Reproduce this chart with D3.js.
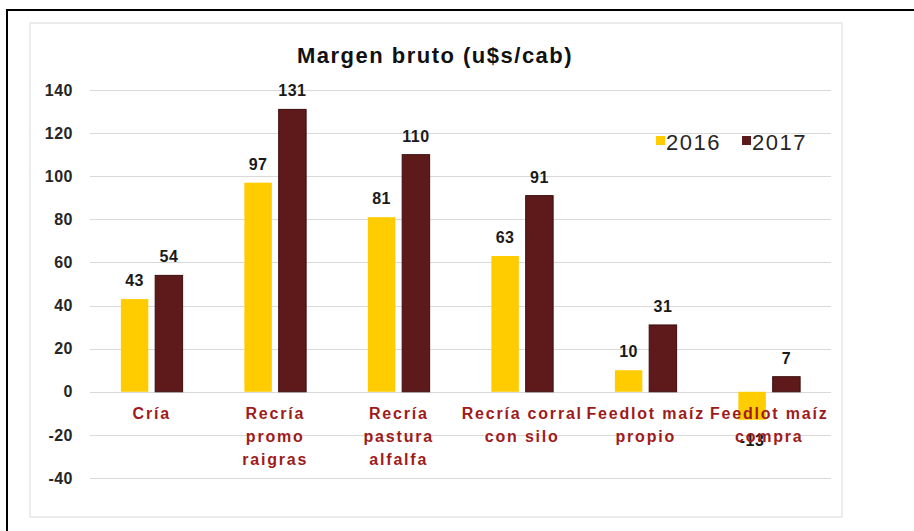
<!DOCTYPE html>
<html>
<head>
<meta charset="utf-8">
<script src="https://cdn.jsdelivr.net/npm/d3@7"></script>
<style>
  body { margin: 0; background: #fff; }
  svg text { font-family: "Liberation Sans", Arial, sans-serif; }
</style>
</head>
<body>
<script>
(function() {
    var w = 914;
    var h = 531;

    var categories = [
        ["Cría"],
        ["Recría", "promo", "raigras"],
        ["Recría", "pastura", "alfalfa"],
        ["Recría corral", "con silo"],
        ["Feedlot maíz", "propio"],
        ["Feedlot maíz", "compra"]
    ];
    var years = ["2016", "2017"];
    var values2016 = [43, 97, 81, 63, 10, -13];
    var values2017 = [54, 131, 110, 91, 31, 7];
    var yTicks = [-40, -20, 0, 20, 40, 60, 80, 100, 120, 140];

    var colors = { "2016": "#FFCC00", "2017": "#5E1A1A" };
    var strokes = { "2016": "none", "2017": "#3d0d0d" };

    var rows = categories.map(function(c, i) {
        return { key: i, label: c, vals: [
            { year: "2016", v: values2016[i] },
            { year: "2017", v: values2017[i] }
        ]};
    });

    var svg = d3.select("body").append("svg").attr("width", w).attr("height", h);

    // outer frame
    svg.append("rect").attr("x", 7).attr("y", 10).attr("width", w).attr("height", h)
        .attr("fill", "none").attr("stroke", "#000").attr("stroke-width", 2);
    // inner chart area border
    svg.append("rect").attr("x", 30).attr("y", 23).attr("width", 812).attr("height", 494)
        .attr("fill", "none").attr("stroke", "#d9d9d9").attr("stroke-width", 1);

    var x0 = d3.scaleBand().domain(rows.map(function(d) { return d.key; }))
        .range([90, 831]).paddingInner(0.5).paddingOuter(0.25);
    var x1 = d3.scaleBand().domain(years).range([0, x0.bandwidth()]).paddingInner(0.2);
    var y = d3.scaleLinear().domain([-40, 140]).range([478, 90]);

    // gridlines
    svg.append("g").selectAll("line").data(yTicks).enter().append("line")
        .attr("x1", 90).attr("x2", 831)
        .attr("y1", function(d) { return Math.round(y(d)) + 0.5; })
        .attr("y2", function(d) { return Math.round(y(d)) + 0.5; })
        .attr("stroke", "#d9d9d9").attr("stroke-width", 1);

    // y axis labels
    var yAxis = d3.axisLeft(y).tickValues(yTicks).tickSize(0).tickPadding(0);
    var gy = svg.append("g").attr("transform", "translate(73,0)").call(yAxis);
    gy.select(".domain").remove();
    gy.selectAll("text").attr("font-size", 16).attr("font-weight", "bold")
        .attr("letter-spacing", 0.5).attr("fill", "#262626").text(function(d) { return d; });

    // bars
    var groups = svg.append("g").selectAll("g").data(rows).enter().append("g")
        .attr("transform", function(d) { return "translate(" + x0(d.key) + ",0)"; });

    groups.selectAll("rect").data(function(d) { return d.vals; }).enter().append("rect")
        .attr("x", function(d) { return x1(d.year); })
        .attr("width", x1.bandwidth())
        .attr("y", function(d) { return y(Math.max(0, d.v)); })
        .attr("height", function(d) { return Math.abs(y(d.v) - y(0)); })
        .attr("fill", function(d) { return colors[d.year]; })
        .attr("stroke", function(d) { return strokes[d.year]; });

    // category labels
    var labels = svg.append("g").selectAll("text").data(rows).enter().append("text")
        .attr("x", function(d) { return x0(d.key) + x0.bandwidth() / 2; })
        .attr("y", 419)
        .attr("text-anchor", "middle")
        .attr("font-size", 16).attr("font-weight", "bold")
        .attr("letter-spacing", 1.8)
        .attr("fill", "#9E1B1B");
    labels.selectAll("tspan").data(function(d) { return d.label; }).enter().append("tspan")
        .attr("x", function() { var p = d3.select(this.parentNode).datum(); return x0(p.key) + x0.bandwidth() / 2; })
        .attr("dy", function(d, i) { return i === 0 ? 0 : 23; })
        .text(function(d) { return d; });

    // value labels
    groups.selectAll("text.val").data(function(d) { return d.vals; }).enter().append("text")
        .attr("class", "val")
        .attr("x", function(d) { return x1(d.year) + x1.bandwidth() / 2; })
        .attr("y", function(d) { return d.v >= 0 ? y(d.v) - 13 : y(d.v) + 26; })
        .attr("text-anchor", "middle")
        .attr("font-size", 16).attr("font-weight", "bold").attr("letter-spacing", 0.5)
        .attr("fill", "#1a1a1a")
        .text(function(d) { return d.v; });

    // title
    svg.append("text").attr("x", 435).attr("y", 63).attr("text-anchor", "middle")
        .attr("font-size", 22).attr("font-weight", "bold").attr("fill", "#111")
        .attr("letter-spacing", 1.5)
        .text("Margen bruto (u$s/cab)");

    // legend
    var legend = svg.append("g").selectAll("g").data(years).enter().append("g")
        .attr("transform", function(d, i) { return "translate(" + (656 + i * 86) + ",142)"; });
    legend.append("rect").attr("x", 0).attr("y", -6).attr("width", 9).attr("height", 9)
        .attr("fill", function(d) { return colors[d]; });
    legend.append("text").attr("x", 10).attr("y", 8)
        .attr("font-size", 22).attr("letter-spacing", 1.5).attr("fill", "#262626")
        .text(function(d) { return d; });
})();
</script>
</body>
</html>
